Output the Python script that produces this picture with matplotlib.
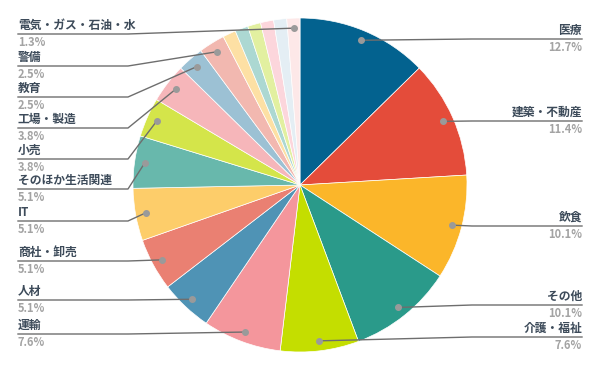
import matplotlib.pyplot as plt
import numpy as np

plt.rcParams['font.family'] = ['Noto Sans CJK JP', 'DejaVu Sans']

categories = ['医療', '建築・不動産', '飲食', 'その他', '介護・福祉', '運輸', '人材',
              '商社・卸売', 'IT', 'そのほか生活関連', '小売', '工場・製造', '教育', '警備',
              '', '', '', '', '', '電気・ガス・石油・水']
counts = [10, 9, 8, 8, 6, 6, 4, 4, 4, 4, 3, 3, 2, 2, 1, 1, 1, 1, 1, 1]
colors = ['#03628f', '#e44c3a', '#fbb62a', '#2a9a8a', '#c4de00', '#f4969c', '#4f93b5',
          '#ea8072', '#fdcd6a', '#68b8ac', '#d4e54a', '#f6b6ba', '#9cc1d4', '#f2b8b0',
          '#fde0a4', '#acd8d2', '#e2f0a0', '#fcd6dc', '#e4eef4', '#fde8e8']

# label line y (pixels from top), side
label_y = {'医療': 39, '建築・不動産': 121, '飲食': 226, 'その他': 305, '介護・福祉': 337,
           '運輸': 334, '人材': 300, '商社・卸売': 261, 'IT': 221, 'そのほか生活関連': 189,
           '小売': 159, '工場・製造': 128, '教育': 97, '警備': 66, '電気・ガス・石油・水': 34}
right_side = ['医療', '建築・不動産', '飲食', 'その他', '介護・福祉']

W, H = 600, 371
fig = plt.figure(figsize=(6, 3.71), dpi=100)
ax = fig.add_axes([0, 0, 1, 1])

def Y(y):
    return H - y

cx, cy, R = 300, 185, 167
wedges, _ = ax.pie(counts, colors=colors, startangle=90, counterclock=False,
                   center=(cx, Y(cy)), radius=R,
                   wedgeprops=dict(linewidth=0.5, edgecolor='white'))
ax.set_xlim(0, W)
ax.set_ylim(0, H)
ax.set_aspect('equal')
ax.axis('off')

total = sum(counts)
for w, name, c in zip(wedges, categories, counts):
    if not name:
        continue
    ang = np.deg2rad((w.theta1 + w.theta2) / 2)
    dx = cx + 0.94 * R * np.cos(ang)
    dy = Y(cy) + 0.94 * R * np.sin(ang)
    ly = label_y[name]
    pct = f'{c / total * 100:.1f}%'
    if name in right_side:
        xs = [582, 472, dx]
        tx, ha = 582, 'right'
    else:
        xs = [18, 128, dx]
        tx, ha = 18, 'left'
    ax.plot(xs, [Y(ly), Y(ly), dy], color='#6e6e6e', lw=1, zorder=3)
    ax.plot(dx, dy, 'o', color='#9a9a9a', ms=4, zorder=4)
    ax.text(tx, Y(ly) + 2, name, ha=ha, va='bottom', fontsize=8.5,
            fontweight='bold', color='#3d4b5a')
    ax.text(tx, Y(ly) - 2, pct, ha=ha, va='top', fontsize=8,
            fontweight='bold', color='#a3a3a3')

fig.savefig('out.png', dpi=100)
